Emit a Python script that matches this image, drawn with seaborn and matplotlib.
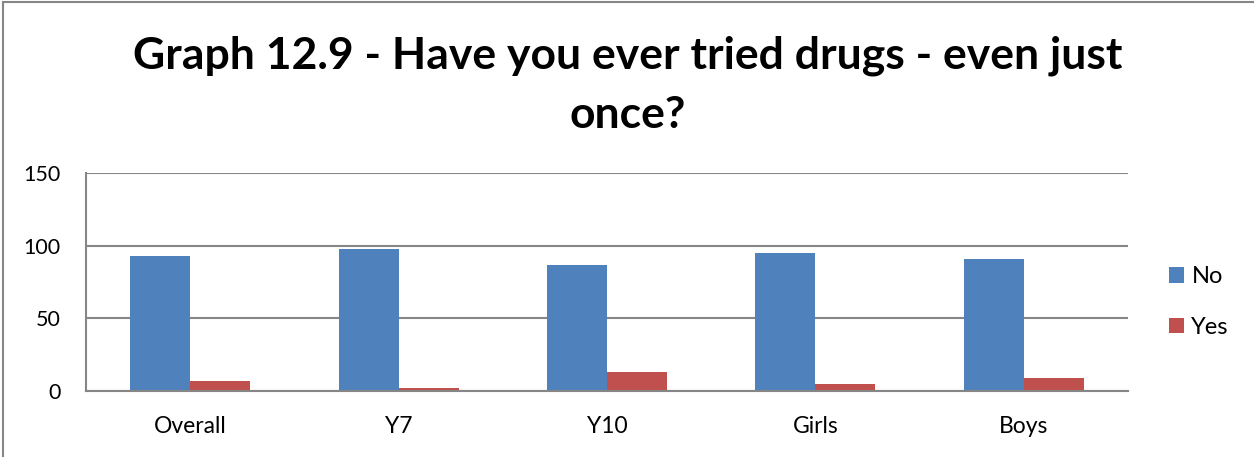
import matplotlib
matplotlib.use("Agg")
import matplotlib.pyplot as plt
import seaborn as sns
import pandas as pd
from matplotlib.patches import Rectangle, Patch

categories = ["Overall", "Y7", "Y10", "Girls", "Boys"]
no_values = [93, 98, 87, 95, 91]
yes_values = [7, 2, 13, 5, 9]
series = ["No", "Yes"]
colors = ["#4F81BD", "#C0504D"]
yticks = [0, 50, 100, 150]

df = pd.DataFrame({
    "cat": categories * 2,
    "series": ["No"] * len(categories) + ["Yes"] * len(categories),
    "value": no_values + yes_values,
})

sns.set_theme(style="white")
plt.rcParams["font.family"] = ["Lato", "DejaVu Sans"]
plt.rcParams["text.color"] = "black"

fig = plt.figure(figsize=(12.54, 4.57), dpi=100)
ax = fig.add_axes([86 / 1254, 1 - 391 / 457, (1128 - 86) / 1254, (391 - 173) / 457])

sns.barplot(data=df, x="cat", y="value", hue="series", palette=colors,
            width=0.575, ax=ax, legend=False, saturation=1, edgecolor="none")

ax.set_ylim(0, 150)
ax.set_xlim(-0.5, len(categories) - 0.5)
ax.set_yticks(yticks)
ax.set_yticklabels([str(t) for t in yticks], fontsize=15.5, color="black")
ax.set_xticks(range(len(categories)))
ax.set_xticklabels(categories, fontsize=16.5, color="black")
ax.set_xlabel("")
ax.set_ylabel("")
ax.yaxis.grid(True, color="#868686", linewidth=1.5)
ax.set_axisbelow(True)
for s in ["top", "right"]:
    ax.spines[s].set_visible(False)
for s in ["left", "bottom"]:
    ax.spines[s].set_color("#868686")
    ax.spines[s].set_linewidth(1.5)
ax.tick_params(axis="x", which="major", length=0, pad=18)
ax.tick_params(axis="y", which="major", length=6.5, width=1.5, color="#868686", direction="out", pad=12)
ax.set_xticks([i - 0.5 for i in range(len(categories) + 1)], minor=True)
ax.tick_params(axis="x", which="minor", length=7, width=1.5, color="#868686", direction="out")

handles = [Patch(facecolor=c, edgecolor="none") for c in colors]
fig.legend(handles, series, loc="center left", bbox_to_anchor=(1169 / 1254, 1 - 302 / 457),
           frameon=False, fontsize=17, handlelength=0.65, handleheight=0.65,
           labelspacing=1.25, handletextpad=0.3, borderaxespad=0, borderpad=0)

fig.text(628 / 1254, 1 - 56 / 457, "Graph 12.9 - Have you ever tried drugs - even just",
         ha="center", va="center", fontsize=32, fontweight="bold", color="black")
fig.text(628 / 1254, 1 - 115 / 457, "once?",
         ha="center", va="center", fontsize=32, fontweight="bold", color="black")

fig.patches.append(Rectangle((3 / 1254, -0.1), 1.2, 1 - 2 / 457 + 0.1, transform=fig.transFigure,
                             fill=False, edgecolor="#868686", linewidth=1.5))

fig.savefig("out.png", dpi=100)
